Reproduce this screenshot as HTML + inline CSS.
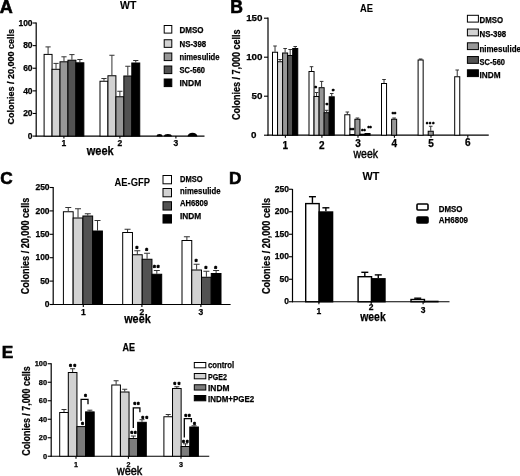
<!DOCTYPE html>
<html><head><meta charset="utf-8"><title>Figure</title>
<style>
html,body{margin:0;padding:0;background:#fff;}
body{width:520px;height:476px;overflow:hidden;}
svg{display:block;}
svg text{font-family:"Liberation Sans",sans-serif;}
</style></head><body>
<svg width="520" height="476" viewBox="0 0 520 476">
<rect x="0" y="0" width="520" height="476" fill="#fff"/>
<text x="-0.30" y="12.60" font-size="18" font-weight="bold" text-anchor="start" fill="#000" stroke="#000" stroke-width="0.6">A</text>
<text x="120.00" y="8.90" font-size="10" font-weight="bold" text-anchor="start" fill="#000" textLength="16.30" lengthAdjust="spacingAndGlyphs" stroke="#000" stroke-width="0.1">WT</text>
<line x1="36.20" y1="22.50" x2="36.20" y2="136.60" stroke="#000" stroke-width="1.2"/>
<line x1="35.70" y1="136.10" x2="204.50" y2="136.10" stroke="#000" stroke-width="1.2"/>
<line x1="32.70" y1="23.00" x2="36.20" y2="23.00" stroke="#000" stroke-width="1.1"/>
<text x="32.60" y="25.66" font-size="8.5" font-weight="bold" text-anchor="end" fill="#000" stroke="#000" stroke-width="0.25" >100</text>
<line x1="32.70" y1="45.62" x2="36.20" y2="45.62" stroke="#000" stroke-width="1.1"/>
<text x="32.60" y="48.28" font-size="8.5" font-weight="bold" text-anchor="end" fill="#000" stroke="#000" stroke-width="0.25" >80</text>
<line x1="32.70" y1="68.24" x2="36.20" y2="68.24" stroke="#000" stroke-width="1.1"/>
<text x="32.60" y="70.90" font-size="8.5" font-weight="bold" text-anchor="end" fill="#000" stroke="#000" stroke-width="0.25" >60</text>
<line x1="32.70" y1="90.86" x2="36.20" y2="90.86" stroke="#000" stroke-width="1.1"/>
<text x="32.60" y="93.52" font-size="8.5" font-weight="bold" text-anchor="end" fill="#000" stroke="#000" stroke-width="0.25" >40</text>
<line x1="32.70" y1="113.48" x2="36.20" y2="113.48" stroke="#000" stroke-width="1.1"/>
<text x="32.60" y="116.14" font-size="8.5" font-weight="bold" text-anchor="end" fill="#000" stroke="#000" stroke-width="0.25" >20</text>
<line x1="32.70" y1="136.10" x2="36.20" y2="136.10" stroke="#000" stroke-width="1.1"/>
<text x="32.60" y="138.76" font-size="8.5" font-weight="bold" text-anchor="end" fill="#000" stroke="#000" stroke-width="0.25" >0</text>
<line x1="63.90" y1="136.10" x2="63.90" y2="138.60" stroke="#000" stroke-width="1.1"/>
<text x="63.90" y="146.06" font-size="8.5" font-weight="bold" text-anchor="middle" fill="#000" stroke="#000" stroke-width="0.25" >1</text>
<line x1="119.90" y1="136.10" x2="119.90" y2="138.60" stroke="#000" stroke-width="1.1"/>
<text x="119.90" y="146.06" font-size="8.5" font-weight="bold" text-anchor="middle" fill="#000" stroke="#000" stroke-width="0.25" >2</text>
<line x1="175.90" y1="136.10" x2="175.90" y2="138.60" stroke="#000" stroke-width="1.1"/>
<text x="175.90" y="146.06" font-size="8.5" font-weight="bold" text-anchor="middle" fill="#000" stroke="#000" stroke-width="0.25" >3</text>
<text x="14.30" y="76.75" font-size="9.9" font-weight="bold" text-anchor="middle" fill="#000" textLength="95.50" lengthAdjust="spacingAndGlyphs" transform="rotate(-90 14.30 76.75)" stroke="#000" stroke-width="0.25" >Colonies / 20,000 cells</text>
<text x="86.75" y="155.00" font-size="12.3" font-weight="bold" text-anchor="start" fill="#000" textLength="27.00" lengthAdjust="spacingAndGlyphs" stroke="#000" stroke-width="0.25" >week</text>
<line x1="48.08" y1="53.90" x2="48.08" y2="46.90" stroke="#333" stroke-width="1"/>
<line x1="45.48" y1="46.90" x2="50.68" y2="46.90" stroke="#333" stroke-width="1"/>
<rect x="44.10" y="54.40" width="7.95" height="81.70" fill="#ffffff" stroke="#000" stroke-width="1"/>
<line x1="56.03" y1="68.80" x2="56.03" y2="63.40" stroke="#333" stroke-width="1"/>
<line x1="53.43" y1="63.40" x2="58.63" y2="63.40" stroke="#333" stroke-width="1"/>
<rect x="52.05" y="69.30" width="7.95" height="66.80" fill="#d2d2d2" stroke="#000" stroke-width="1"/>
<line x1="63.98" y1="61.30" x2="63.98" y2="56.80" stroke="#333" stroke-width="1"/>
<line x1="61.38" y1="56.80" x2="66.58" y2="56.80" stroke="#333" stroke-width="1"/>
<rect x="60.00" y="61.80" width="7.95" height="74.30" fill="#979797" stroke="#000" stroke-width="1"/>
<line x1="71.92" y1="59.70" x2="71.92" y2="54.60" stroke="#333" stroke-width="1"/>
<line x1="69.33" y1="54.60" x2="74.52" y2="54.60" stroke="#333" stroke-width="1"/>
<rect x="67.95" y="60.20" width="7.95" height="75.90" fill="#525252" stroke="#000" stroke-width="1"/>
<line x1="79.88" y1="62.30" x2="79.88" y2="59.50" stroke="#333" stroke-width="1"/>
<line x1="77.28" y1="59.50" x2="82.47" y2="59.50" stroke="#333" stroke-width="1"/>
<rect x="75.90" y="62.80" width="7.95" height="73.30" fill="#000000" stroke="#000" stroke-width="1"/>
<line x1="103.97" y1="80.75" x2="103.97" y2="78.50" stroke="#333" stroke-width="1"/>
<line x1="101.38" y1="78.50" x2="106.57" y2="78.50" stroke="#333" stroke-width="1"/>
<rect x="100.00" y="81.25" width="7.95" height="54.85" fill="#ffffff" stroke="#000" stroke-width="1"/>
<line x1="111.92" y1="75.25" x2="111.92" y2="55.25" stroke="#333" stroke-width="1"/>
<line x1="109.33" y1="55.25" x2="114.52" y2="55.25" stroke="#333" stroke-width="1"/>
<rect x="107.95" y="75.75" width="7.95" height="60.35" fill="#d2d2d2" stroke="#000" stroke-width="1"/>
<line x1="119.88" y1="96.25" x2="119.88" y2="91.25" stroke="#333" stroke-width="1"/>
<line x1="117.28" y1="91.25" x2="122.47" y2="91.25" stroke="#333" stroke-width="1"/>
<rect x="115.90" y="96.75" width="7.95" height="39.35" fill="#979797" stroke="#000" stroke-width="1"/>
<line x1="127.82" y1="75.50" x2="127.82" y2="66.25" stroke="#333" stroke-width="1"/>
<line x1="125.22" y1="66.25" x2="130.42" y2="66.25" stroke="#333" stroke-width="1"/>
<rect x="123.85" y="76.00" width="7.95" height="60.10" fill="#525252" stroke="#000" stroke-width="1"/>
<line x1="135.78" y1="62.50" x2="135.78" y2="60.50" stroke="#333" stroke-width="1"/>
<line x1="133.18" y1="60.50" x2="138.38" y2="60.50" stroke="#333" stroke-width="1"/>
<rect x="131.80" y="63.00" width="7.95" height="73.10" fill="#000000" stroke="#000" stroke-width="1"/>
<path d="M156.60,136.50 A2.90,2.40 0 0 1 162.40,136.50 Z" fill="#000"/>
<path d="M164.00,136.50 A3.90,2.40 0 0 1 171.80,136.50 Z" fill="#000"/>
<path d="M187.60,136.50 A4.90,3.80 0 0 1 197.40,136.50 Z" fill="#000"/>
<rect x="164.20" y="25.50" width="7.60" height="7.60" fill="#ffffff" stroke="#000" stroke-width="1"/>
<text x="179.50" y="32.70" font-size="9" font-weight="bold" text-anchor="start" fill="#000" textLength="24.00" lengthAdjust="spacingAndGlyphs" stroke="#000" stroke-width="0.25" >DMSO</text>
<rect x="164.20" y="39.75" width="7.60" height="7.60" fill="#d2d2d2" stroke="#000" stroke-width="1"/>
<text x="179.50" y="46.95" font-size="9" font-weight="bold" text-anchor="start" fill="#000" textLength="26.75" lengthAdjust="spacingAndGlyphs" stroke="#000" stroke-width="0.25" >NS-398</text>
<rect x="164.20" y="53.00" width="7.60" height="7.60" fill="#979797" stroke="#000" stroke-width="1"/>
<text x="179.50" y="60.20" font-size="9" font-weight="bold" text-anchor="start" fill="#000" textLength="40.00" lengthAdjust="spacingAndGlyphs" stroke="#000" stroke-width="0.25" >nimesulide</text>
<rect x="164.20" y="66.00" width="7.60" height="7.60" fill="#525252" stroke="#000" stroke-width="1"/>
<text x="179.50" y="73.20" font-size="9" font-weight="bold" text-anchor="start" fill="#000" textLength="25.50" lengthAdjust="spacingAndGlyphs" stroke="#000" stroke-width="0.25" >SC-560</text>
<rect x="164.20" y="79.00" width="7.60" height="7.60" fill="#000000" stroke="#000" stroke-width="1"/>
<text x="179.50" y="85.70" font-size="9" font-weight="bold" text-anchor="start" fill="#000" textLength="21.75" lengthAdjust="spacingAndGlyphs" stroke="#000" stroke-width="0.25" >INDM</text>
<text x="230.30" y="12.50" font-size="17.6" font-weight="bold" text-anchor="start" fill="#000" stroke="#000" stroke-width="0.6">B</text>
<text x="360.00" y="11.80" font-size="10" font-weight="bold" text-anchor="start" fill="#000" textLength="13.00" lengthAdjust="spacingAndGlyphs" stroke="#000" stroke-width="0.1">AE</text>
<line x1="268.00" y1="17.50" x2="268.00" y2="135.70" stroke="#000" stroke-width="1.2"/>
<line x1="267.50" y1="135.20" x2="488.75" y2="135.20" stroke="#000" stroke-width="1.2"/>
<line x1="264.00" y1="18.20" x2="268.00" y2="18.20" stroke="#000" stroke-width="1.1"/>
<text x="262.50" y="21.33" font-size="9.8" font-weight="bold" text-anchor="end" fill="#000" stroke="#000" stroke-width="0.25" >150</text>
<line x1="264.00" y1="57.20" x2="268.00" y2="57.20" stroke="#000" stroke-width="1.1"/>
<text x="262.50" y="60.33" font-size="9.8" font-weight="bold" text-anchor="end" fill="#000" stroke="#000" stroke-width="0.25" >100</text>
<line x1="264.00" y1="96.20" x2="268.00" y2="96.20" stroke="#000" stroke-width="1.1"/>
<text x="262.50" y="99.33" font-size="9.8" font-weight="bold" text-anchor="end" fill="#000" stroke="#000" stroke-width="0.25" >50</text>
<line x1="264.00" y1="135.20" x2="268.00" y2="135.20" stroke="#000" stroke-width="1.1"/>
<text x="253.75" y="138.33" font-size="9.8" font-weight="bold" text-anchor="middle" fill="#000" stroke="#000" stroke-width="0.25" >0</text>
<line x1="285.40" y1="135.20" x2="285.40" y2="137.70" stroke="#000" stroke-width="1.1"/>
<text x="285.40" y="148.60" font-size="10" font-weight="bold" text-anchor="middle" fill="#000" stroke="#000" stroke-width="0.25" >1</text>
<line x1="321.90" y1="135.20" x2="321.90" y2="137.70" stroke="#000" stroke-width="1.1"/>
<text x="321.90" y="148.60" font-size="10" font-weight="bold" text-anchor="middle" fill="#000" stroke="#000" stroke-width="0.25" >2</text>
<line x1="358.00" y1="135.20" x2="358.00" y2="137.70" stroke="#000" stroke-width="1.1"/>
<text x="358.00" y="147.10" font-size="10" font-weight="bold" text-anchor="middle" fill="#000" stroke="#000" stroke-width="0.25" >3</text>
<line x1="394.40" y1="135.20" x2="394.40" y2="137.70" stroke="#000" stroke-width="1.1"/>
<text x="394.40" y="147.10" font-size="10" font-weight="bold" text-anchor="middle" fill="#000" stroke="#000" stroke-width="0.25" >4</text>
<line x1="431.00" y1="135.20" x2="431.00" y2="137.70" stroke="#000" stroke-width="1.1"/>
<text x="431.00" y="147.10" font-size="10" font-weight="bold" text-anchor="middle" fill="#000" stroke="#000" stroke-width="0.25" >5</text>
<line x1="467.80" y1="135.20" x2="467.80" y2="137.70" stroke="#000" stroke-width="1.1"/>
<text x="467.80" y="146.10" font-size="10" font-weight="bold" text-anchor="middle" fill="#000" stroke="#000" stroke-width="0.25" >6</text>
<text x="239.80" y="74.75" font-size="10.5" font-weight="bold" text-anchor="middle" fill="#000" textLength="90.50" lengthAdjust="spacingAndGlyphs" transform="rotate(-90 239.80 74.75)" stroke="#000" stroke-width="0.25" >Colonies / 7,000 cells</text>
<text x="353.50" y="157.70" font-size="12" font-weight="normal" text-anchor="start" fill="#000" textLength="24.50" lengthAdjust="spacingAndGlyphs" stroke="#000" stroke-width="0.4">week</text>
<line x1="275.02" y1="51.75" x2="275.02" y2="46.00" stroke="#333" stroke-width="1"/>
<line x1="273.22" y1="46.00" x2="276.82" y2="46.00" stroke="#333" stroke-width="1"/>
<rect x="272.50" y="52.25" width="5.05" height="82.95" fill="#ffffff" stroke="#000" stroke-width="1"/>
<line x1="280.07" y1="61.25" x2="280.07" y2="59.50" stroke="#333" stroke-width="1"/>
<line x1="278.27" y1="59.50" x2="281.88" y2="59.50" stroke="#333" stroke-width="1"/>
<rect x="277.55" y="61.75" width="5.05" height="73.45" fill="#d2d2d2" stroke="#000" stroke-width="1"/>
<line x1="285.12" y1="52.50" x2="285.12" y2="48.50" stroke="#333" stroke-width="1"/>
<line x1="283.32" y1="48.50" x2="286.93" y2="48.50" stroke="#333" stroke-width="1"/>
<rect x="282.60" y="53.00" width="5.05" height="82.20" fill="#979797" stroke="#000" stroke-width="1"/>
<line x1="290.17" y1="55.00" x2="290.17" y2="49.50" stroke="#333" stroke-width="1"/>
<line x1="288.37" y1="49.50" x2="291.97" y2="49.50" stroke="#333" stroke-width="1"/>
<rect x="287.65" y="55.50" width="5.05" height="79.70" fill="#525252" stroke="#000" stroke-width="1"/>
<line x1="295.22" y1="48.00" x2="295.22" y2="46.50" stroke="#333" stroke-width="1"/>
<line x1="293.42" y1="46.50" x2="297.02" y2="46.50" stroke="#333" stroke-width="1"/>
<rect x="292.70" y="48.50" width="5.05" height="86.70" fill="#000000" stroke="#000" stroke-width="1"/>
<line x1="311.52" y1="71.00" x2="311.52" y2="66.70" stroke="#333" stroke-width="1"/>
<line x1="309.72" y1="66.70" x2="313.32" y2="66.70" stroke="#333" stroke-width="1"/>
<rect x="309.00" y="71.50" width="5.05" height="63.70" fill="#ffffff" stroke="#000" stroke-width="1"/>
<line x1="316.57" y1="96.00" x2="316.57" y2="92.50" stroke="#333" stroke-width="1"/>
<line x1="314.77" y1="92.50" x2="318.38" y2="92.50" stroke="#333" stroke-width="1"/>
<rect x="314.05" y="96.50" width="5.05" height="38.70" fill="#d2d2d2" stroke="#000" stroke-width="1"/>
<line x1="321.62" y1="87.20" x2="321.62" y2="81.40" stroke="#333" stroke-width="1"/>
<line x1="319.82" y1="81.40" x2="323.43" y2="81.40" stroke="#333" stroke-width="1"/>
<rect x="319.10" y="87.70" width="5.05" height="47.50" fill="#979797" stroke="#000" stroke-width="1"/>
<line x1="326.67" y1="112.20" x2="326.67" y2="110.30" stroke="#333" stroke-width="1"/>
<line x1="324.87" y1="110.30" x2="328.47" y2="110.30" stroke="#333" stroke-width="1"/>
<rect x="324.15" y="112.70" width="5.05" height="22.50" fill="#525252" stroke="#000" stroke-width="1"/>
<line x1="331.72" y1="96.30" x2="331.72" y2="93.50" stroke="#333" stroke-width="1"/>
<line x1="329.92" y1="93.50" x2="333.52" y2="93.50" stroke="#333" stroke-width="1"/>
<rect x="329.20" y="96.80" width="5.05" height="38.40" fill="#000000" stroke="#000" stroke-width="1"/>
<line x1="347.32" y1="114.25" x2="347.32" y2="112.00" stroke="#333" stroke-width="1"/>
<line x1="345.52" y1="112.00" x2="349.12" y2="112.00" stroke="#333" stroke-width="1"/>
<rect x="344.80" y="114.75" width="5.05" height="20.45" fill="#ffffff" stroke="#000" stroke-width="1"/>
<rect x="349.85" y="134.50" width="5.05" height="0.70" fill="#d2d2d2" stroke="#000" stroke-width="1"/>
<line x1="357.43" y1="118.75" x2="357.43" y2="118.00" stroke="#333" stroke-width="1"/>
<line x1="355.62" y1="118.00" x2="359.23" y2="118.00" stroke="#333" stroke-width="1"/>
<rect x="354.90" y="119.25" width="5.05" height="15.95" fill="#979797" stroke="#000" stroke-width="1"/>
<rect x="359.95" y="134.20" width="5.05" height="1.00" fill="#525252" stroke="#000" stroke-width="1"/>
<rect x="365.00" y="133.50" width="5.05" height="1.70" fill="#000000" stroke="#000" stroke-width="1"/>
<line x1="384.02" y1="83.00" x2="384.02" y2="79.50" stroke="#333" stroke-width="1"/>
<line x1="382.22" y1="79.50" x2="385.82" y2="79.50" stroke="#333" stroke-width="1"/>
<rect x="381.50" y="83.50" width="5.05" height="51.70" fill="#ffffff" stroke="#000" stroke-width="1"/>
<line x1="394.12" y1="118.75" x2="394.12" y2="118.00" stroke="#333" stroke-width="1"/>
<line x1="392.32" y1="118.00" x2="395.93" y2="118.00" stroke="#333" stroke-width="1"/>
<rect x="391.60" y="119.25" width="5.05" height="15.95" fill="#979797" stroke="#000" stroke-width="1"/>
<line x1="420.62" y1="59.50" x2="420.62" y2="59.00" stroke="#333" stroke-width="1"/>
<line x1="418.82" y1="59.00" x2="422.43" y2="59.00" stroke="#333" stroke-width="1"/>
<rect x="418.10" y="60.00" width="5.05" height="75.20" fill="#ffffff" stroke="#000" stroke-width="1"/>
<line x1="430.73" y1="130.75" x2="430.73" y2="126.25" stroke="#333" stroke-width="1"/>
<line x1="428.93" y1="126.25" x2="432.53" y2="126.25" stroke="#333" stroke-width="1"/>
<rect x="428.20" y="131.25" width="5.05" height="3.95" fill="#979797" stroke="#000" stroke-width="1"/>
<line x1="457.22" y1="76.25" x2="457.22" y2="70.00" stroke="#333" stroke-width="1"/>
<line x1="455.42" y1="70.00" x2="459.02" y2="70.00" stroke="#333" stroke-width="1"/>
<rect x="454.70" y="76.75" width="5.05" height="58.45" fill="#ffffff" stroke="#000" stroke-width="1"/>
<text x="316.10" y="89.67" font-size="6" font-weight="bold" text-anchor="middle" fill="#000" stroke="#000" stroke-width="0.7" letter-spacing="1.0">*</text>
<text x="327.40" y="107.42" font-size="6" font-weight="bold" text-anchor="middle" fill="#000" stroke="#000" stroke-width="0.7" letter-spacing="1.0">*</text>
<text x="333.70" y="92.82" font-size="6" font-weight="bold" text-anchor="middle" fill="#000" stroke="#000" stroke-width="0.7" letter-spacing="1.0">*</text>
<text x="351.90" y="131.94" font-size="5.5" font-weight="bold" text-anchor="middle" fill="#000" stroke="#000" stroke-width="0.5" letter-spacing="0">**</text>
<text x="363.40" y="132.94" font-size="5.5" font-weight="bold" text-anchor="middle" fill="#000" stroke="#000" stroke-width="0.5" letter-spacing="0">**</text>
<text x="369.60" y="130.44" font-size="5.5" font-weight="bold" text-anchor="middle" fill="#000" stroke="#000" stroke-width="0.5" letter-spacing="0">**</text>
<text x="393.90" y="116.23" font-size="5.5" font-weight="bold" text-anchor="middle" fill="#000" stroke="#000" stroke-width="0.5" letter-spacing="0">**</text>
<text x="430.60" y="125.64" font-size="5.5" font-weight="bold" text-anchor="middle" fill="#000" stroke="#000" stroke-width="0.5" letter-spacing="1.0">***</text>
<rect x="467.40" y="15.30" width="11.00" height="6.80" fill="#ffffff" stroke="#000" stroke-width="1"/>
<text x="479.50" y="23.30" font-size="9.5" font-weight="bold" text-anchor="start" fill="#000" textLength="23.50" lengthAdjust="spacingAndGlyphs" stroke="#000" stroke-width="0.25" >DMSO</text>
<rect x="467.40" y="29.05" width="11.00" height="6.80" fill="#d2d2d2" stroke="#000" stroke-width="1"/>
<text x="479.50" y="37.30" font-size="9.5" font-weight="bold" text-anchor="start" fill="#000" textLength="26.75" lengthAdjust="spacingAndGlyphs" stroke="#000" stroke-width="0.25" >NS-398</text>
<rect x="467.40" y="42.80" width="11.00" height="6.80" fill="#979797" stroke="#000" stroke-width="1"/>
<text x="479.50" y="51.55" font-size="9.5" font-weight="bold" text-anchor="start" fill="#000" textLength="41.50" lengthAdjust="spacingAndGlyphs" stroke="#000" stroke-width="0.25" >nimesulide</text>
<rect x="467.40" y="56.55" width="11.00" height="6.80" fill="#525252" stroke="#000" stroke-width="1"/>
<text x="479.50" y="64.55" font-size="9.5" font-weight="bold" text-anchor="start" fill="#000" textLength="25.50" lengthAdjust="spacingAndGlyphs" stroke="#000" stroke-width="0.25" >SC-560</text>
<rect x="467.40" y="69.80" width="11.00" height="6.80" fill="#000000" stroke="#000" stroke-width="1"/>
<text x="479.50" y="77.80" font-size="9.5" font-weight="bold" text-anchor="start" fill="#000" textLength="21.00" lengthAdjust="spacingAndGlyphs" stroke="#000" stroke-width="0.25" >INDM</text>
<text x="0.30" y="184.20" font-size="17.2" font-weight="bold" text-anchor="start" fill="#000" stroke="#000" stroke-width="0.6">C</text>
<text x="114.50" y="186.20" font-size="11" font-weight="bold" text-anchor="start" fill="#000" textLength="35.50" lengthAdjust="spacingAndGlyphs" stroke="#000" stroke-width="0.05">AE-GFP</text>
<line x1="53.20" y1="187.00" x2="53.20" y2="305.00" stroke="#000" stroke-width="1.2"/>
<line x1="52.70" y1="304.50" x2="230.60" y2="304.50" stroke="#000" stroke-width="1.2"/>
<line x1="49.70" y1="187.50" x2="53.20" y2="187.50" stroke="#000" stroke-width="1.1"/>
<text x="49.60" y="190.16" font-size="8.5" font-weight="bold" text-anchor="end" fill="#000" stroke="#000" stroke-width="0.25" >250</text>
<line x1="49.70" y1="210.90" x2="53.20" y2="210.90" stroke="#000" stroke-width="1.1"/>
<text x="49.60" y="213.56" font-size="8.5" font-weight="bold" text-anchor="end" fill="#000" stroke="#000" stroke-width="0.25" >200</text>
<line x1="49.70" y1="234.30" x2="53.20" y2="234.30" stroke="#000" stroke-width="1.1"/>
<text x="49.60" y="236.96" font-size="8.5" font-weight="bold" text-anchor="end" fill="#000" stroke="#000" stroke-width="0.25" >150</text>
<line x1="49.70" y1="257.70" x2="53.20" y2="257.70" stroke="#000" stroke-width="1.1"/>
<text x="49.60" y="260.36" font-size="8.5" font-weight="bold" text-anchor="end" fill="#000" stroke="#000" stroke-width="0.25" >100</text>
<line x1="49.70" y1="281.10" x2="53.20" y2="281.10" stroke="#000" stroke-width="1.1"/>
<text x="49.60" y="283.76" font-size="8.5" font-weight="bold" text-anchor="end" fill="#000" stroke="#000" stroke-width="0.25" >50</text>
<line x1="49.70" y1="304.50" x2="53.20" y2="304.50" stroke="#000" stroke-width="1.1"/>
<text x="49.60" y="307.16" font-size="8.5" font-weight="bold" text-anchor="end" fill="#000" stroke="#000" stroke-width="0.25" >0</text>
<line x1="83.30" y1="304.50" x2="83.30" y2="307.00" stroke="#000" stroke-width="1.1"/>
<text x="83.30" y="315.26" font-size="8.5" font-weight="bold" text-anchor="middle" fill="#000" stroke="#000" stroke-width="0.25" >1</text>
<line x1="141.90" y1="304.50" x2="141.90" y2="307.00" stroke="#000" stroke-width="1.1"/>
<text x="141.90" y="314.81" font-size="8.5" font-weight="bold" text-anchor="middle" fill="#000" stroke="#000" stroke-width="0.25" >2</text>
<line x1="200.90" y1="304.50" x2="200.90" y2="307.00" stroke="#000" stroke-width="1.1"/>
<text x="200.90" y="314.81" font-size="8.5" font-weight="bold" text-anchor="middle" fill="#000" stroke="#000" stroke-width="0.25" >3</text>
<text x="28.60" y="246.00" font-size="10.3" font-weight="bold" text-anchor="middle" fill="#000" textLength="96.50" lengthAdjust="spacingAndGlyphs" transform="rotate(-90 28.60 246.00)" stroke="#000" stroke-width="0.25" >Colonies / 20,000 cells</text>
<text x="124.20" y="323.20" font-size="12.3" font-weight="bold" text-anchor="start" fill="#000" textLength="26.50" lengthAdjust="spacingAndGlyphs" stroke="#000" stroke-width="0.25" >week</text>
<line x1="68.28" y1="211.25" x2="68.28" y2="207.50" stroke="#333" stroke-width="1"/>
<line x1="65.28" y1="207.50" x2="71.28" y2="207.50" stroke="#333" stroke-width="1"/>
<rect x="63.40" y="211.75" width="9.75" height="92.75" fill="#ffffff" stroke="#000" stroke-width="1"/>
<line x1="78.03" y1="217.50" x2="78.03" y2="208.75" stroke="#333" stroke-width="1"/>
<line x1="75.03" y1="208.75" x2="81.03" y2="208.75" stroke="#333" stroke-width="1"/>
<rect x="73.15" y="218.00" width="9.75" height="86.50" fill="#d2d2d2" stroke="#000" stroke-width="1"/>
<line x1="87.78" y1="215.50" x2="87.78" y2="213.75" stroke="#333" stroke-width="1"/>
<line x1="84.78" y1="213.75" x2="90.78" y2="213.75" stroke="#333" stroke-width="1"/>
<rect x="82.90" y="216.00" width="9.75" height="88.50" fill="#525252" stroke="#000" stroke-width="1"/>
<line x1="97.53" y1="230.50" x2="97.53" y2="220.50" stroke="#333" stroke-width="1"/>
<line x1="94.53" y1="220.50" x2="100.53" y2="220.50" stroke="#333" stroke-width="1"/>
<rect x="92.65" y="231.00" width="9.75" height="73.50" fill="#000000" stroke="#000" stroke-width="1"/>
<line x1="127.57" y1="232.00" x2="127.57" y2="229.25" stroke="#333" stroke-width="1"/>
<line x1="124.57" y1="229.25" x2="130.57" y2="229.25" stroke="#333" stroke-width="1"/>
<rect x="122.70" y="232.50" width="9.75" height="72.00" fill="#ffffff" stroke="#000" stroke-width="1"/>
<line x1="137.32" y1="254.25" x2="137.32" y2="250.75" stroke="#333" stroke-width="1"/>
<line x1="134.32" y1="250.75" x2="140.32" y2="250.75" stroke="#333" stroke-width="1"/>
<rect x="132.45" y="254.75" width="9.75" height="49.75" fill="#d2d2d2" stroke="#000" stroke-width="1"/>
<line x1="147.07" y1="258.75" x2="147.07" y2="253.25" stroke="#333" stroke-width="1"/>
<line x1="144.07" y1="253.25" x2="150.07" y2="253.25" stroke="#333" stroke-width="1"/>
<rect x="142.20" y="259.25" width="9.75" height="45.25" fill="#525252" stroke="#000" stroke-width="1"/>
<line x1="156.82" y1="273.75" x2="156.82" y2="270.50" stroke="#333" stroke-width="1"/>
<line x1="153.82" y1="270.50" x2="159.82" y2="270.50" stroke="#333" stroke-width="1"/>
<rect x="151.95" y="274.25" width="9.75" height="30.25" fill="#000000" stroke="#000" stroke-width="1"/>
<line x1="186.88" y1="240.00" x2="186.88" y2="236.75" stroke="#333" stroke-width="1"/>
<line x1="183.88" y1="236.75" x2="189.88" y2="236.75" stroke="#333" stroke-width="1"/>
<rect x="182.00" y="240.50" width="9.75" height="64.00" fill="#ffffff" stroke="#000" stroke-width="1"/>
<line x1="196.62" y1="269.50" x2="196.62" y2="264.25" stroke="#333" stroke-width="1"/>
<line x1="193.62" y1="264.25" x2="199.62" y2="264.25" stroke="#333" stroke-width="1"/>
<rect x="191.75" y="270.00" width="9.75" height="34.50" fill="#d2d2d2" stroke="#000" stroke-width="1"/>
<line x1="206.38" y1="276.75" x2="206.38" y2="271.25" stroke="#333" stroke-width="1"/>
<line x1="203.38" y1="271.25" x2="209.38" y2="271.25" stroke="#333" stroke-width="1"/>
<rect x="201.50" y="277.25" width="9.75" height="27.25" fill="#525252" stroke="#000" stroke-width="1"/>
<line x1="216.12" y1="273.00" x2="216.12" y2="270.50" stroke="#333" stroke-width="1"/>
<line x1="213.12" y1="270.50" x2="219.12" y2="270.50" stroke="#333" stroke-width="1"/>
<rect x="211.25" y="273.50" width="9.75" height="31.00" fill="#000000" stroke="#000" stroke-width="1"/>
<text x="137.32" y="250.99" font-size="7" font-weight="bold" text-anchor="middle" fill="#000" stroke="#000" stroke-width="0.7" letter-spacing="1.0">*</text>
<text x="147.07" y="253.49" font-size="7" font-weight="bold" text-anchor="middle" fill="#000" stroke="#000" stroke-width="0.7" letter-spacing="1.0">*</text>
<text x="156.82" y="269.74" font-size="7" font-weight="bold" text-anchor="middle" fill="#000" stroke="#000" stroke-width="0.7" letter-spacing="1.0">**</text>
<text x="196.62" y="263.99" font-size="7" font-weight="bold" text-anchor="middle" fill="#000" stroke="#000" stroke-width="0.7" letter-spacing="1.0">*</text>
<text x="206.38" y="271.49" font-size="7" font-weight="bold" text-anchor="middle" fill="#000" stroke="#000" stroke-width="0.7" letter-spacing="1.0">*</text>
<text x="216.12" y="271.49" font-size="7" font-weight="bold" text-anchor="middle" fill="#000" stroke="#000" stroke-width="0.7" letter-spacing="1.0">*</text>
<rect x="163.00" y="175.50" width="8.50" height="8.30" fill="#ffffff" stroke="#000" stroke-width="1"/>
<text x="180.00" y="181.85" font-size="9.2" font-weight="bold" text-anchor="start" fill="#000" textLength="22.50" lengthAdjust="spacingAndGlyphs" stroke="#000" stroke-width="0.25" >DMSO</text>
<rect x="163.00" y="188.50" width="8.50" height="8.30" fill="#d2d2d2" stroke="#000" stroke-width="1"/>
<text x="180.00" y="193.85" font-size="9.2" font-weight="bold" text-anchor="start" fill="#000" textLength="40.50" lengthAdjust="spacingAndGlyphs" stroke="#000" stroke-width="0.25" >nimesulide</text>
<rect x="163.00" y="201.75" width="8.50" height="8.30" fill="#525252" stroke="#000" stroke-width="1"/>
<text x="180.00" y="206.35" font-size="9.2" font-weight="bold" text-anchor="start" fill="#000" textLength="28.00" lengthAdjust="spacingAndGlyphs" stroke="#000" stroke-width="0.25" >AH6809</text>
<rect x="163.00" y="214.75" width="8.50" height="8.30" fill="#000000" stroke="#000" stroke-width="1"/>
<text x="180.00" y="218.85" font-size="9.2" font-weight="bold" text-anchor="start" fill="#000" textLength="21.25" lengthAdjust="spacingAndGlyphs" stroke="#000" stroke-width="0.25" >INDM</text>
<text x="229.10" y="184.10" font-size="17.2" font-weight="bold" text-anchor="start" fill="#000" stroke="#000" stroke-width="0.6">D</text>
<text x="362.50" y="179.60" font-size="10" font-weight="bold" text-anchor="start" fill="#000" textLength="16.80" lengthAdjust="spacingAndGlyphs" stroke="#000" stroke-width="0.1">WT</text>
<line x1="292.50" y1="189.00" x2="292.50" y2="302.25" stroke="#000" stroke-width="1.2"/>
<line x1="292.00" y1="301.75" x2="449.50" y2="301.75" stroke="#000" stroke-width="1.2"/>
<line x1="289.00" y1="189.25" x2="292.50" y2="189.25" stroke="#000" stroke-width="1.1"/>
<text x="288.90" y="191.91" font-size="8.5" font-weight="bold" text-anchor="end" fill="#000" stroke="#000" stroke-width="0.25" >250</text>
<line x1="289.00" y1="211.75" x2="292.50" y2="211.75" stroke="#000" stroke-width="1.1"/>
<text x="288.90" y="214.41" font-size="8.5" font-weight="bold" text-anchor="end" fill="#000" stroke="#000" stroke-width="0.25" >200</text>
<line x1="289.00" y1="234.25" x2="292.50" y2="234.25" stroke="#000" stroke-width="1.1"/>
<text x="288.90" y="236.91" font-size="8.5" font-weight="bold" text-anchor="end" fill="#000" stroke="#000" stroke-width="0.25" >150</text>
<line x1="289.00" y1="256.75" x2="292.50" y2="256.75" stroke="#000" stroke-width="1.1"/>
<text x="288.90" y="259.41" font-size="8.5" font-weight="bold" text-anchor="end" fill="#000" stroke="#000" stroke-width="0.25" >100</text>
<line x1="289.00" y1="279.25" x2="292.50" y2="279.25" stroke="#000" stroke-width="1.1"/>
<text x="288.90" y="281.91" font-size="8.5" font-weight="bold" text-anchor="end" fill="#000" stroke="#000" stroke-width="0.25" >50</text>
<line x1="289.00" y1="301.75" x2="292.50" y2="301.75" stroke="#000" stroke-width="1.1"/>
<text x="288.90" y="304.41" font-size="8.5" font-weight="bold" text-anchor="end" fill="#000" stroke="#000" stroke-width="0.25" >0</text>
<line x1="318.90" y1="301.75" x2="318.90" y2="304.25" stroke="#000" stroke-width="1.1"/>
<text x="318.90" y="313.81" font-size="8.5" font-weight="bold" text-anchor="middle" fill="#000" stroke="#000" stroke-width="0.25" >1</text>
<line x1="371.20" y1="301.75" x2="371.20" y2="304.25" stroke="#000" stroke-width="1.1"/>
<text x="371.20" y="310.46" font-size="8.5" font-weight="bold" text-anchor="middle" fill="#000" stroke="#000" stroke-width="0.25" >2</text>
<line x1="423.10" y1="301.75" x2="423.10" y2="304.25" stroke="#000" stroke-width="1.1"/>
<text x="423.10" y="313.36" font-size="8.5" font-weight="bold" text-anchor="middle" fill="#000" stroke="#000" stroke-width="0.25" >3</text>
<text x="269.80" y="246.00" font-size="10.3" font-weight="bold" text-anchor="middle" fill="#000" textLength="96.00" lengthAdjust="spacingAndGlyphs" transform="rotate(-90 269.80 246.00)" stroke="#000" stroke-width="0.25" >Colonies / 20,000 cells</text>
<text x="360.20" y="320.60" font-size="12.3" font-weight="bold" text-anchor="start" fill="#000" textLength="25.50" lengthAdjust="spacingAndGlyphs" stroke="#000" stroke-width="0.25" >week</text>
<line x1="312.43" y1="202.90" x2="312.43" y2="196.50" stroke="#000" stroke-width="1.4"/>
<line x1="308.93" y1="196.70" x2="315.93" y2="196.70" stroke="#000" stroke-width="1.4"/>
<rect x="305.70" y="203.60" width="13.45" height="98.15" fill="#ffffff" stroke="#000" stroke-width="1.4"/>
<line x1="325.88" y1="211.30" x2="325.88" y2="207.60" stroke="#000" stroke-width="1.4"/>
<line x1="322.38" y1="207.80" x2="329.38" y2="207.80" stroke="#000" stroke-width="1.4"/>
<rect x="319.15" y="212.00" width="13.45" height="89.75" fill="#000000" stroke="#000" stroke-width="1.4"/>
<line x1="364.82" y1="276.00" x2="364.82" y2="272.10" stroke="#000" stroke-width="1.4"/>
<line x1="361.32" y1="272.30" x2="368.32" y2="272.30" stroke="#000" stroke-width="1.4"/>
<rect x="358.10" y="276.70" width="13.45" height="25.05" fill="#ffffff" stroke="#000" stroke-width="1.4"/>
<line x1="378.27" y1="278.10" x2="378.27" y2="274.70" stroke="#000" stroke-width="1.4"/>
<line x1="374.77" y1="274.90" x2="381.77" y2="274.90" stroke="#000" stroke-width="1.4"/>
<rect x="371.55" y="278.80" width="13.45" height="22.95" fill="#000000" stroke="#000" stroke-width="1.4"/>
<line x1="417.73" y1="298.80" x2="417.73" y2="298.00" stroke="#000" stroke-width="1.4"/>
<line x1="414.23" y1="298.20" x2="421.23" y2="298.20" stroke="#000" stroke-width="1.4"/>
<rect x="411.00" y="299.50" width="13.45" height="2.25" fill="#ffffff" stroke="#000" stroke-width="1.4"/>
<rect x="424.45" y="301.40" width="13.45" height="0.35" fill="#000000" stroke="#000" stroke-width="1.4"/>
<rect x="417" y="204" width="11" height="6" rx="1" fill="#fff" stroke="#000" stroke-width="1.6"/><rect x="417" y="217" width="11" height="6" rx="1" fill="#000" stroke="#000" stroke-width="1.6"/>
<text x="438.75" y="212.00" font-size="9.2" font-weight="bold" text-anchor="start" fill="#000" textLength="23.75" lengthAdjust="spacingAndGlyphs" stroke="#000" stroke-width="0.25" >DMSO</text>
<text x="438.75" y="223.30" font-size="9.2" font-weight="bold" text-anchor="start" fill="#000" textLength="29.25" lengthAdjust="spacingAndGlyphs" stroke="#000" stroke-width="0.25" >AH6809</text>
<text x="1.80" y="357.60" font-size="17.2" font-weight="bold" text-anchor="start" fill="#000" stroke="#000" stroke-width="0.6">E</text>
<text x="122.50" y="351.40" font-size="10" font-weight="bold" text-anchor="start" fill="#000" textLength="12.50" lengthAdjust="spacingAndGlyphs" stroke="#000" stroke-width="0.25" >AE</text>
<line x1="51.20" y1="363.25" x2="51.20" y2="456.75" stroke="#000" stroke-width="1.2"/>
<line x1="50.70" y1="456.25" x2="209.25" y2="456.25" stroke="#000" stroke-width="1.2"/>
<line x1="47.70" y1="363.75" x2="51.20" y2="363.75" stroke="#000" stroke-width="1.1"/>
<text x="47.10" y="366.01" font-size="7.4" font-weight="bold" text-anchor="end" fill="#000" stroke="#000" stroke-width="0.25" >100</text>
<line x1="47.70" y1="382.25" x2="51.20" y2="382.25" stroke="#000" stroke-width="1.1"/>
<text x="47.10" y="384.51" font-size="7.4" font-weight="bold" text-anchor="end" fill="#000" stroke="#000" stroke-width="0.25" >80</text>
<line x1="47.70" y1="400.75" x2="51.20" y2="400.75" stroke="#000" stroke-width="1.1"/>
<text x="47.10" y="403.01" font-size="7.4" font-weight="bold" text-anchor="end" fill="#000" stroke="#000" stroke-width="0.25" >60</text>
<line x1="47.70" y1="419.25" x2="51.20" y2="419.25" stroke="#000" stroke-width="1.1"/>
<text x="47.10" y="421.51" font-size="7.4" font-weight="bold" text-anchor="end" fill="#000" stroke="#000" stroke-width="0.25" >40</text>
<line x1="47.70" y1="437.75" x2="51.20" y2="437.75" stroke="#000" stroke-width="1.1"/>
<text x="47.10" y="440.01" font-size="7.4" font-weight="bold" text-anchor="end" fill="#000" stroke="#000" stroke-width="0.25" >20</text>
<line x1="47.70" y1="456.25" x2="51.20" y2="456.25" stroke="#000" stroke-width="1.1"/>
<text x="47.10" y="458.51" font-size="7.4" font-weight="bold" text-anchor="end" fill="#000" stroke="#000" stroke-width="0.25" >0</text>
<line x1="76.00" y1="456.25" x2="76.00" y2="458.75" stroke="#000" stroke-width="1.1"/>
<text x="76.00" y="467.09" font-size="7.2" font-weight="bold" text-anchor="middle" fill="#000" stroke="#000" stroke-width="0.25" >1</text>
<line x1="128.40" y1="456.25" x2="128.40" y2="458.75" stroke="#000" stroke-width="1.1"/>
<text x="128.40" y="466.59" font-size="7.2" font-weight="bold" text-anchor="middle" fill="#000" stroke="#000" stroke-width="0.25" >2</text>
<line x1="181.00" y1="456.25" x2="181.00" y2="458.75" stroke="#000" stroke-width="1.1"/>
<text x="181.00" y="466.59" font-size="7.2" font-weight="bold" text-anchor="middle" fill="#000" stroke="#000" stroke-width="0.25" >3</text>
<text x="29.80" y="411.00" font-size="10.5" font-weight="bold" text-anchor="middle" fill="#000" textLength="89.50" lengthAdjust="spacingAndGlyphs" transform="rotate(-90 29.80 411.00)" stroke="#000" stroke-width="0.25" >Colonies / 7,000 cells</text>
<text x="116.80" y="475.30" font-size="12.3" font-weight="normal" text-anchor="start" fill="#000" textLength="25.50" lengthAdjust="spacingAndGlyphs" stroke="#000" stroke-width="0.45">week</text>
<line x1="64.01" y1="412.00" x2="64.01" y2="409.50" stroke="#333" stroke-width="1"/>
<line x1="61.51" y1="409.50" x2="66.51" y2="409.50" stroke="#333" stroke-width="1"/>
<rect x="59.70" y="412.50" width="8.62" height="43.75" fill="#ffffff" stroke="#000" stroke-width="1"/>
<line x1="72.63" y1="372.00" x2="72.63" y2="368.75" stroke="#333" stroke-width="1"/>
<line x1="70.13" y1="368.75" x2="75.13" y2="368.75" stroke="#333" stroke-width="1"/>
<rect x="68.32" y="372.50" width="8.62" height="83.75" fill="#d2d2d2" stroke="#000" stroke-width="1"/>
<rect x="76.94" y="426.60" width="8.62" height="29.65" fill="#7b7b7b" stroke="#000" stroke-width="1"/>
<line x1="89.87" y1="411.40" x2="89.87" y2="410.20" stroke="#333" stroke-width="1"/>
<line x1="87.37" y1="410.20" x2="92.37" y2="410.20" stroke="#333" stroke-width="1"/>
<rect x="85.56" y="411.90" width="8.62" height="44.35" fill="#000000" stroke="#000" stroke-width="1"/>
<line x1="116.11" y1="384.50" x2="116.11" y2="380.75" stroke="#333" stroke-width="1"/>
<line x1="113.61" y1="380.75" x2="118.61" y2="380.75" stroke="#333" stroke-width="1"/>
<rect x="111.80" y="385.00" width="8.62" height="71.25" fill="#ffffff" stroke="#000" stroke-width="1"/>
<line x1="124.73" y1="391.50" x2="124.73" y2="389.25" stroke="#333" stroke-width="1"/>
<line x1="122.23" y1="389.25" x2="127.23" y2="389.25" stroke="#333" stroke-width="1"/>
<rect x="120.42" y="392.00" width="8.62" height="64.25" fill="#d2d2d2" stroke="#000" stroke-width="1"/>
<line x1="133.35" y1="438.00" x2="133.35" y2="436.00" stroke="#333" stroke-width="1"/>
<line x1="130.85" y1="436.00" x2="135.85" y2="436.00" stroke="#333" stroke-width="1"/>
<rect x="129.04" y="438.50" width="8.62" height="17.75" fill="#7b7b7b" stroke="#000" stroke-width="1"/>
<line x1="141.97" y1="421.80" x2="141.97" y2="419.70" stroke="#333" stroke-width="1"/>
<line x1="139.47" y1="419.70" x2="144.47" y2="419.70" stroke="#333" stroke-width="1"/>
<rect x="137.66" y="422.30" width="8.62" height="33.95" fill="#000000" stroke="#000" stroke-width="1"/>
<line x1="168.21" y1="416.25" x2="168.21" y2="414.50" stroke="#333" stroke-width="1"/>
<line x1="165.71" y1="414.50" x2="170.71" y2="414.50" stroke="#333" stroke-width="1"/>
<rect x="163.90" y="416.75" width="8.62" height="39.50" fill="#ffffff" stroke="#000" stroke-width="1"/>
<line x1="176.83" y1="388.00" x2="176.83" y2="386.75" stroke="#333" stroke-width="1"/>
<line x1="174.33" y1="386.75" x2="179.33" y2="386.75" stroke="#333" stroke-width="1"/>
<rect x="172.52" y="388.50" width="8.62" height="67.75" fill="#d2d2d2" stroke="#000" stroke-width="1"/>
<line x1="185.45" y1="446.00" x2="185.45" y2="443.80" stroke="#333" stroke-width="1"/>
<line x1="182.95" y1="443.80" x2="187.95" y2="443.80" stroke="#333" stroke-width="1"/>
<rect x="181.14" y="446.50" width="8.62" height="9.75" fill="#7b7b7b" stroke="#000" stroke-width="1"/>
<line x1="194.07" y1="426.50" x2="194.07" y2="425.80" stroke="#333" stroke-width="1"/>
<line x1="191.57" y1="425.80" x2="196.57" y2="425.80" stroke="#333" stroke-width="1"/>
<rect x="189.76" y="427.00" width="8.62" height="29.25" fill="#000000" stroke="#000" stroke-width="1"/>
<polyline points="81.10,420.70 81.10,399.30 88.00,399.30 88.00,404.30" fill="none" stroke="#000" stroke-width="1.3"/>
<text x="86.00" y="399.40" font-size="6.5" font-weight="bold" text-anchor="middle" fill="#000" stroke="#000" stroke-width="0.7" letter-spacing="1.0">*</text>
<polyline points="133.30,428.00 133.30,407.80 139.90,407.80 139.90,412.30" fill="none" stroke="#000" stroke-width="1.3"/>
<text x="137.00" y="406.60" font-size="6.5" font-weight="bold" text-anchor="middle" fill="#000" stroke="#000" stroke-width="0.7" letter-spacing="1.0">**</text>
<polyline points="184.30,437.50 184.30,418.60 191.40,418.60 191.40,422.30" fill="none" stroke="#000" stroke-width="1.3"/>
<text x="188.00" y="418.70" font-size="6.5" font-weight="bold" text-anchor="middle" fill="#000" stroke="#000" stroke-width="0.7" letter-spacing="1.0">**</text>
<text x="73.48" y="369.31" font-size="6.5" font-weight="bold" text-anchor="middle" fill="#000" stroke="#000" stroke-width="0.7" letter-spacing="1.7">**</text>
<text x="82.90" y="427.31" font-size="6.5" font-weight="bold" text-anchor="middle" fill="#000" stroke="#000" stroke-width="0.7" letter-spacing="1.0">*</text>
<text x="134.10" y="436.20" font-size="6.5" font-weight="bold" text-anchor="middle" fill="#000" stroke="#000" stroke-width="0.7" letter-spacing="1.0">**</text>
<text x="145.40" y="420.70" font-size="6.5" font-weight="bold" text-anchor="middle" fill="#000" stroke="#000" stroke-width="0.7" letter-spacing="1.4">**</text>
<text x="177.68" y="386.90" font-size="6.5" font-weight="bold" text-anchor="middle" fill="#000" stroke="#000" stroke-width="0.7" letter-spacing="1.7">**</text>
<text x="186.05" y="444.70" font-size="6.5" font-weight="bold" text-anchor="middle" fill="#000" stroke="#000" stroke-width="0.7" letter-spacing="1.3">**</text>
<text x="195.10" y="427.10" font-size="6.5" font-weight="bold" text-anchor="middle" fill="#000" stroke="#000" stroke-width="0.7" letter-spacing="1.0">*</text>
<rect x="194.30" y="362.50" width="11.50" height="5.30" fill="#ffffff" stroke="#000" stroke-width="1"/>
<text x="208.00" y="368.20" font-size="9" font-weight="bold" text-anchor="start" fill="#000" textLength="26.20" lengthAdjust="spacingAndGlyphs" stroke="#000" stroke-width="0.25" >control</text>
<rect x="194.30" y="373.50" width="11.50" height="5.30" fill="#d2d2d2" stroke="#000" stroke-width="1"/>
<text x="208.00" y="379.95" font-size="9" font-weight="bold" text-anchor="start" fill="#000" textLength="19.00" lengthAdjust="spacingAndGlyphs" stroke="#000" stroke-width="0.25" >PGE2</text>
<rect x="194.30" y="384.75" width="11.50" height="5.30" fill="#7b7b7b" stroke="#000" stroke-width="1"/>
<text x="208.00" y="390.70" font-size="9" font-weight="bold" text-anchor="start" fill="#000" textLength="21.50" lengthAdjust="spacingAndGlyphs" stroke="#000" stroke-width="0.25" >INDM</text>
<rect x="194.30" y="395.50" width="11.50" height="5.30" fill="#000000" stroke="#000" stroke-width="1"/>
<text x="208.00" y="401.95" font-size="9" font-weight="bold" text-anchor="start" fill="#000" textLength="46.20" lengthAdjust="spacingAndGlyphs" stroke="#000" stroke-width="0.25" >INDM+PGE2</text>
</svg>
</body></html>
